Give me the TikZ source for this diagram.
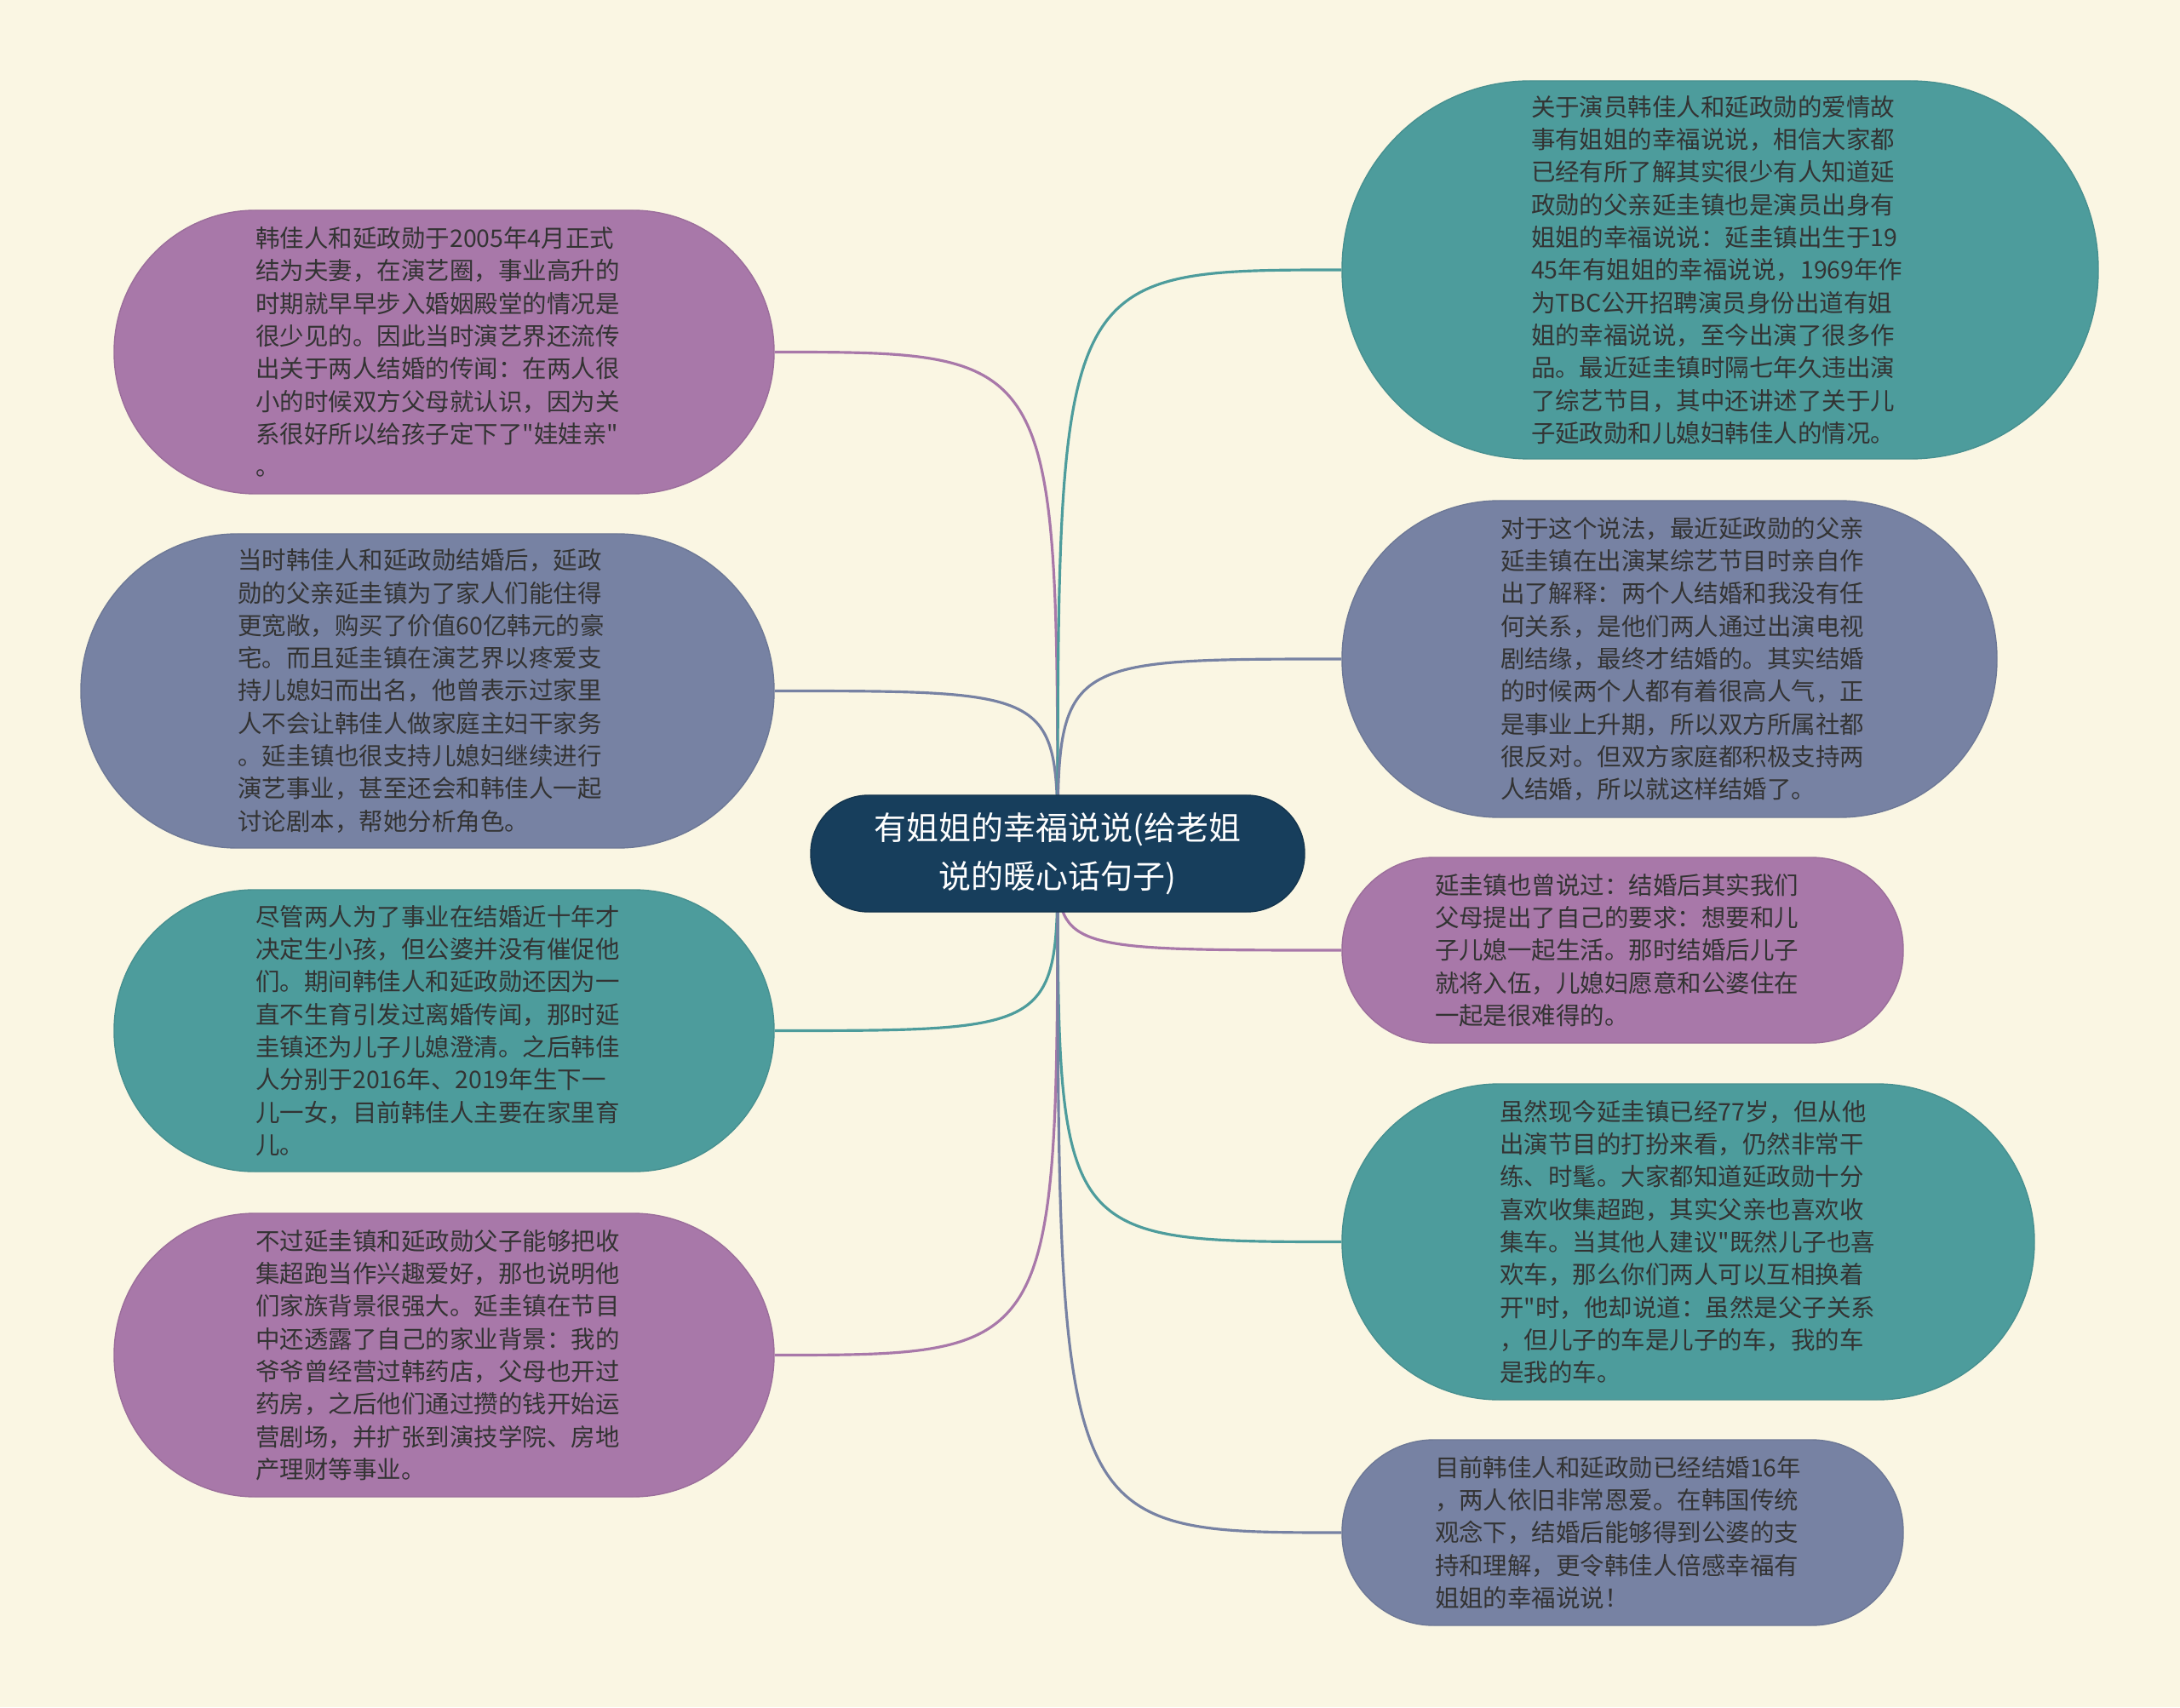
\documentclass[tikz,border=0pt]{standalone}
\usepackage{fontspec}
\newfontfamily\cjkfont{Noto Sans CJK SC}
\usepackage{tikz}
\usetikzlibrary{positioning}
\definecolor{bgcream}{HTML}{FAF6E3}
\definecolor{mmpurple}{HTML}{A878A9}
\definecolor{mmslate}{HTML}{7782A3}
\definecolor{mmteal}{HTML}{4D9C9C}
\definecolor{mmnavy}{HTML}{173E5C}
\definecolor{mmtext}{HTML}{333333}
\tikzstyle{leaf} = [rectangle, inner sep=0pt, align=left, text=mmtext, font=\cjkfont\fontsize{8.1pt}{10.9pt}\selectfont]
\tikzstyle{purplebox} = [leaf, fill=mmpurple, draw=mmpurple!92!black]
\tikzstyle{slatebox} = [leaf, fill=mmslate, draw=mmslate!92!black]
\tikzstyle{tealbox} = [leaf, fill=mmteal, draw=mmteal!92!black]
\tikzstyle{rootbox} = [rectangle, inner sep=0pt, align=center, text=white, fill=mmnavy, draw=mmnavy!85!black, minimum width=5.8cm, minimum height=1.37cm, rounded corners=0.68cm, font=\cjkfont\fontsize{10.8pt}{16.3pt}\selectfont]
\tikzstyle{link} = [line width=0.9pt]
\tikzstyle{purplelink} = [link, draw=mmpurple]
\tikzstyle{slatelink} = [link, draw=mmslate]
\tikzstyle{teallink} = [link, draw=mmteal]

\begin{document}
\begin{tikzpicture}[node distance=4cm]

        \useasboundingbox (0,0) rectangle (25.6,20.05);
        \fill [bgcream] (0,0) rectangle (25.6,20.05);

        \coordinate (hub) at (12.42,10.025);

        % left branch
        \node (L1) [purplebox, left of=hub, xshift=-3.205cm, yshift=5.89cm, minimum width=7.75cm, minimum height=3.33cm, rounded corners=1.66cm, text width=4.42cm] {韩佳人和延政勋于2005年4月正式\\结为夫妻，在演艺圈，事业高升的\\时期就早早步入婚姻殿堂的情况是\\很少见的。因此当时演艺界还流传\\出关于两人结婚的传闻：在两人很\\小的时候双方父母就认识，因为关\\系很好所以给孩子定下了"娃娃亲"\\。};
        \node (L2) [slatebox, below of=L1, xshift=-0.195cm, yshift=0.02cm, minimum width=8.14cm, minimum height=3.69cm, rounded corners=1.84cm, text width=4.45cm] {当时韩佳人和延政勋结婚后，延政\\勋的父亲延圭镇为了家人们能住得\\更宽敞，购买了价值60亿韩元的豪\\宅。而且延圭镇在演艺界以疼爱支\\持儿媳妇而出名，他曾表示过家里\\人不会让韩佳人做家庭主妇干家务\\。延圭镇也很支持儿媳妇继续进行\\演艺事业，甚至还会和韩佳人一起\\讨论剧本，帮她分析角色。};
        \node (L3) [tealbox, below of=L2, xshift=0.195cm, yshift=0.01cm, minimum width=7.75cm, minimum height=3.31cm, rounded corners=1.65cm, text width=4.42cm] {尽管两人为了事业在结婚近十年才\\决定生小孩，但公婆并没有催促他\\们。期间韩佳人和延政勋还因为一\\直不生育引发过离婚传闻，那时延\\圭镇还为儿子儿媳澄清。之后韩佳\\人分别于2016年、2019年生下一\\儿一女，目前韩佳人主要在家里育\\儿。};
        \node (L4) [purplebox, below of=L3, yshift=0.19cm, minimum width=7.75cm, minimum height=3.33cm, rounded corners=1.66cm, text width=4.42cm] {不过延圭镇和延政勋父子能够把收\\集超跑当作兴趣爱好，那也说明他\\们家族背景很强大。延圭镇在节目\\中还透露了自己的家业背景：我的\\爷爷曾经营过韩药店，父母也开过\\药房，之后他们通过攒的钱开始运\\营剧场，并扩张到演技学院、房地\\产理财等事业。};

        % right branch
        \node (R1) [tealbox, right of=hub, xshift=3.78cm, yshift=6.855cm, minimum width=8.88cm, minimum height=4.44cm, rounded corners=2.21cm, text width=4.44cm] {关于演员韩佳人和延政勋的爱情故\\事有姐姐的幸福说说，相信大家都\\已经有所了解其实很少有人知道延\\政勋的父亲延圭镇也是演员出身有\\姐姐的幸福说说：延圭镇出生于19\\45年有姐姐的幸福说说，1969年作\\为TBC公开招聘演员身份出道有姐\\姐的幸福说说，至今出演了很多作\\品。最近延圭镇时隔七年久违出演\\了综艺节目，其中还讲述了关于儿\\子延政勋和儿媳妇韩佳人的情况。};
        \node (R2) [slatebox, below of=R1, xshift=-0.595cm, yshift=-0.57cm, minimum width=7.69cm, minimum height=3.72cm, rounded corners=1.85cm, text width=3.97cm] {对于这个说法，最近延政勋的父亲\\延圭镇在出演某综艺节目时亲自作\\出了解释：两个人结婚和我没有任\\何关系，是他们两人通过出演电视\\剧结缘，最终才结婚的。其实结婚\\的时候两个人都有着很高人气，正\\是事业上升期，所以双方所属社都\\很反对。但双方家庭都积极支持两\\人结婚，所以就这样结婚了。};
        \node (R3) [purplebox, below of=R2, xshift=-0.55cm, yshift=0.58cm, minimum width=6.59cm, minimum height=2.18cm, rounded corners=1.08cm, text width=4.41cm] {延圭镇也曾说过：结婚后其实我们\\父母提出了自己的要求：想要和儿\\子儿媳一起生活。那时结婚后儿子\\就将入伍，儿媳妇愿意和公婆住在\\一起是很难得的。};
        \node (R4) [tealbox, below of=R3, xshift=0.77cm, yshift=0.575cm, minimum width=8.13cm, minimum height=3.71cm, rounded corners=1.85cm, text width=4.42cm] {虽然现今延圭镇已经77岁，但从他\\出演节目的打扮来看，仍然非常干\\练、时髦。大家都知道延政勋十分\\喜欢收集超跑，其实父亲也喜欢收\\集车。当其他人建议"既然儿子也喜\\欢车，那么你们两人可以互相换着\\开"时，他却说道：虽然是父子关系\\，但儿子的车是儿子的车，我的车\\是我的车。};
        \node (R5) [slatebox, below of=R4, xshift=-0.77cm, yshift=0.585cm, minimum width=6.59cm, minimum height=2.18cm, rounded corners=1.08cm, text width=4.41cm] {目前韩佳人和延政勋已经结婚16年\\，两人依旧非常恩爱。在韩国传统\\观念下，结婚后能够得到公婆的支\\持和理解，更令韩佳人倍感幸福有\\姐姐的幸福说说！};

        \draw [purplelink] (hub) .. controls (hub |- L1.east) .. (L1.east);
        \draw [slatelink] (hub) .. controls (hub |- L2.east) .. (L2.east);
        \draw [teallink] (hub) .. controls (hub |- L3.east) .. (L3.east);
        \draw [purplelink] (hub) .. controls (hub |- L4.east) .. (L4.east);
        \draw [teallink] (hub) .. controls (hub |- R1.west) .. (R1.west);
        \draw [slatelink] (hub) .. controls (hub |- R2.west) .. (R2.west);
        \draw [purplelink] (hub) .. controls (hub |- R3.west) .. (R3.west);
        \draw [teallink] (hub) .. controls (hub |- R4.west) .. (R4.west);
        \draw [slatelink] (hub) .. controls (hub |- R5.west) .. (R5.west);

        \node (root) [rootbox] at (hub) {有姐姐的幸福说说(给老姐\\说的暖心话句子)};

      \end{tikzpicture}
\end{document}
